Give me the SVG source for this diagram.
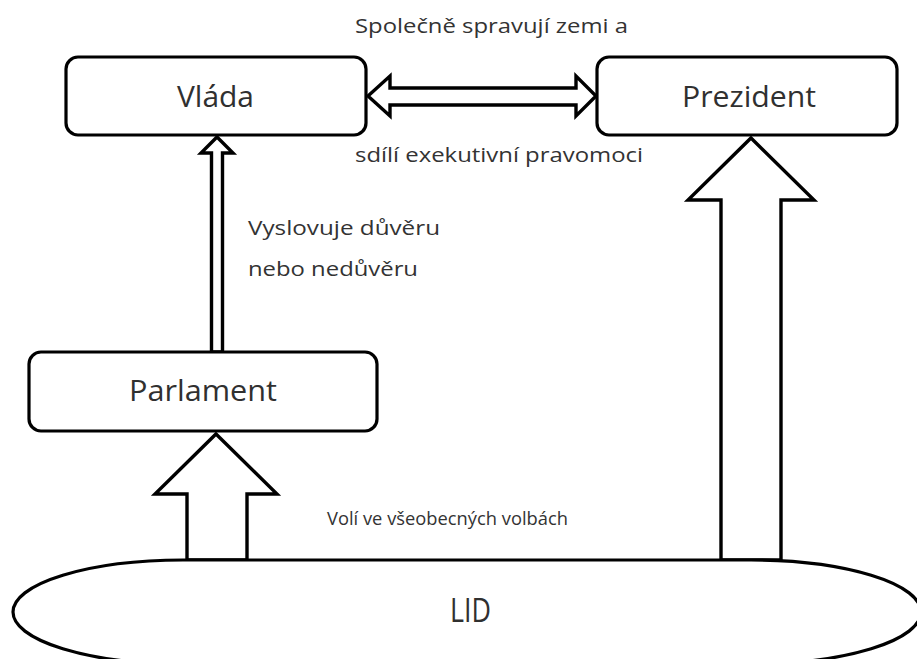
<svg xmlns="http://www.w3.org/2000/svg" width="917" height="659" viewBox="0 0 917 659">
<style>
.box{fill:#fff;stroke:#000;stroke-width:3.2}
.arr{fill:#fff;stroke:#000;stroke-width:3.4;stroke-linejoin:miter}
.lbl{font-family:"Open Sans","DejaVu Sans",sans-serif;font-size:30px;fill:#303030}
.sm{font-family:"Open Sans","DejaVu Sans",sans-serif;font-size:20px;fill:#333}
</style>
<rect width="917" height="659" fill="#fff"/>
<g id="connectors">
<polygon class="arr" points="368,96 390,76 390,88 576,88 576,76 596,96 576,116 576,105 390,105 390,116"/>
<polygon class="arr" points="217,137 233,153 222.5,153 222.5,352 211.5,352 211.5,153 201,153"/>
<polygon class="arr" points="216,434 277,494 247,494 247,560 187,560 187,494 155,494"/>
<polygon class="arr" points="751,138 814,200 781,200 781,560 721,560 721,200 688,200"/>
<text class="sm" x="355" y="33" textLength="273" lengthAdjust="spacingAndGlyphs">Společně spravují zemi a</text>
<text class="sm" x="355" y="162" textLength="288" lengthAdjust="spacingAndGlyphs">sdílí exekutivní pravomoci</text>
<text class="sm" x="248" y="235" textLength="192" lengthAdjust="spacingAndGlyphs">Vyslovuje důvěru</text>
<text class="sm" x="248" y="276" textLength="170" lengthAdjust="spacingAndGlyphs">nebo nedůvěru</text>
<text class="sm" x="327" y="525" style="font-size:19px" textLength="241" lengthAdjust="spacingAndGlyphs">Volí ve všeobecných volbách</text>
</g>
<g id="vlada">
<rect class="box" x="66" y="57" width="300" height="78" rx="12"/>
<text class="lbl" x="177" y="107" textLength="77" lengthAdjust="spacingAndGlyphs">Vláda</text>
</g>
<g id="prezident">
<rect class="box" x="597" y="57" width="300" height="78" rx="12"/>
<text class="lbl" x="682" y="107" textLength="134" lengthAdjust="spacingAndGlyphs">Prezident</text>
</g>
<g id="parlament">
<rect class="box" x="29" y="352" width="348" height="79" rx="12"/>
<text class="lbl" x="129" y="401" textLength="148" lengthAdjust="spacingAndGlyphs">Parlament</text>
</g>
<g id="lid">
<rect class="box" x="13" y="560" width="908" height="104" rx="170" ry="52"/>
<text class="lbl" x="450" y="622" style="font-size:32px" textLength="41" lengthAdjust="spacingAndGlyphs">LID</text>
</g>
</svg>
